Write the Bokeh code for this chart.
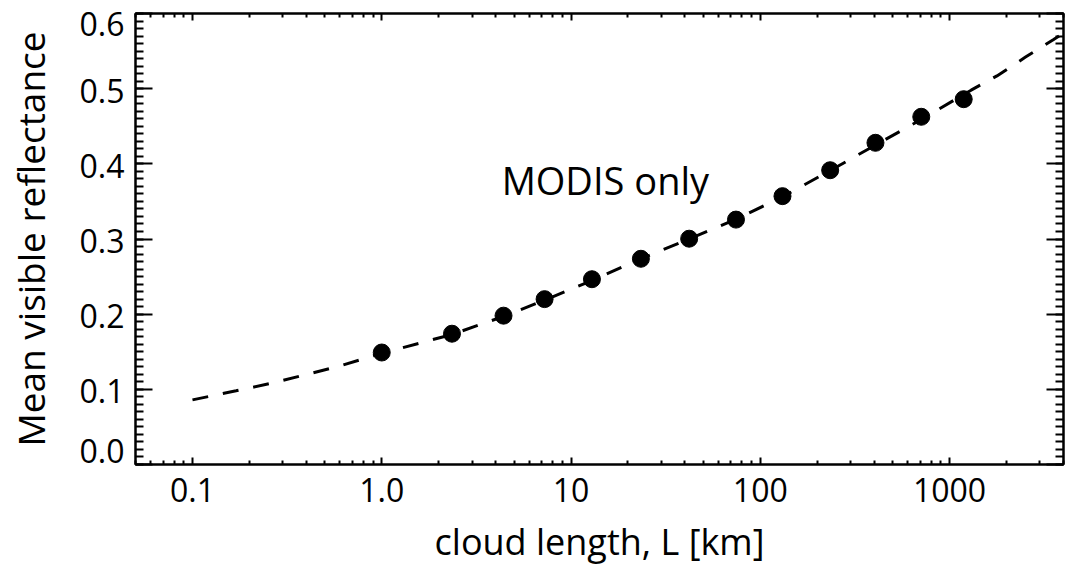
from bokeh.plotting import figure
from bokeh.models import Range1d, FixedTicker, LogAxis, LinearAxis, Label, CustomJSTickFormatter
from bokeh.embed import file_html
from bokeh.resources import INLINE

# ---- data ----
cloud_length = [1.0, 2.35, 4.4, 7.25, 12.9, 23.4, 42.1, 74.4, 131, 234, 406, 709, 1188]
reflectance = [0.149, 0.174, 0.198, 0.220, 0.2465, 0.2737, 0.3004, 0.3258, 0.357, 0.3915, 0.428, 0.4626, 0.486]

fit_length = [0.1, 0.17, 0.26, 0.39, 0.58, 1.0, 2.35, 4.4, 7.3, 13, 23, 42, 74, 131, 234, 406, 709, 1300, 1780, 2520, 3530, 4000]
fit_reflectance = [0.086, 0.098, 0.108, 0.119, 0.130, 0.148, 0.173, 0.197, 0.219, 0.245, 0.273, 0.300, 0.326, 0.356,
                   0.391, 0.425, 0.459, 0.498, 0.517, 0.542, 0.565, 0.574]

x_ticks = [0.1, 1, 10, 100, 1000]
x_tick_labels = ["0.1", "1.0", "10", "100", "1000"]
y_ticks = [0.0, 0.1, 0.2, 0.3, 0.4, 0.5, 0.6]
y_tick_labels = ["0.0", "0.1", "0.2", "0.3", "0.4", "0.5", "0.6"]

x_label = "cloud length, L [km]"
y_label = "Mean visible reflectance"
note_text = "MODIS only"
note_x, note_y = 4.3, 0.379

FONT = "Open Sans"
X_MIN, X_MAX = 0.05, 4000
Y_MIN, Y_MAX = 0.0, 0.6

p = figure(width=1068, height=571, x_axis_type="log",
           x_range=Range1d(X_MIN, X_MAX), y_range=Range1d(Y_MIN, Y_MAX),
           output_backend="svg", toolbar_location=None,
           min_border_left=135, min_border_right=5, min_border_top=13, min_border_bottom=107)
p.xgrid.visible = False
p.ygrid.visible = False
p.outline_line_color = "black"
p.outline_line_width = 2
p.background_fill_color = "white"
p.border_fill_color = "white"

x_minor = [m * d for d in [0.01, 0.1, 1, 10, 100, 1000] for m in range(2, 10)]
y_minor = [i / 100 for i in range(0, 61)]

xt = FixedTicker(ticks=x_ticks, minor_ticks=x_minor)
yt = FixedTicker(ticks=y_ticks, minor_ticks=y_minor)

x_formatter = CustomJSTickFormatter(args=dict(vals=x_ticks, labs=x_tick_labels), code="""
    let best = 0, bd = Infinity;
    for (let i = 0; i < vals.length; i++) {
        const d = Math.abs(Math.log10(tick) - Math.log10(vals[i]));
        if (d < bd) { bd = d; best = i; }
    }
    return labs[best];
""")


def hide_labels(ax):
    ax.major_label_text_font_size = "1px"
    ax.major_label_text_alpha = 0
    ax.major_label_standoff = 0


def style_x(ax, labels=True):
    ax.ticker = xt
    ax.axis_line_width = 2
    ax.major_tick_line_width = 2
    ax.minor_tick_line_width = 2
    ax.major_tick_in = 7
    ax.major_tick_out = 0
    ax.minor_tick_in = 4
    ax.minor_tick_out = 0
    if labels:
        ax.formatter = x_formatter
        ax.major_label_text_font = FONT
        ax.major_label_text_font_size = "32px"
        ax.major_label_text_color = "black"
        ax.major_label_standoff = 13
    else:
        hide_labels(ax)


def style_y(ax):
    ax.ticker = yt
    ax.axis_line_width = 2
    ax.major_tick_line_width = 2
    ax.minor_tick_line_width = 2
    ax.major_tick_in = 17
    ax.major_tick_out = 0
    ax.minor_tick_in = 8
    ax.minor_tick_out = 0
    hide_labels(ax)


style_x(p.xaxis[0])
style_y(p.yaxis[0])
xa = p.xaxis[0]
xa.axis_label = x_label
xa.axis_label_text_font = FONT
xa.axis_label_text_font_size = "36px"
xa.axis_label_text_font_style = "normal"
xa.axis_label_text_color = "black"
xa.axis_label_standoff = 12

# second, mark-less left axis that only carries the y tick labels;
# the end labels are nudged inward (in pixels) as in the reference
px_per_unit = 450 / (Y_MAX - Y_MIN)
y_nudge_px = [13, -2, -2, -2, -2, -2, -10]
label_pos = [v + n / px_per_unit for v, n in zip(y_ticks, y_nudge_px)]
ya = LinearAxis(ticker=FixedTicker(ticks=label_pos, minor_ticks=[]),
                formatter=CustomJSTickFormatter(args=dict(vals=y_ticks, labs=y_tick_labels), code="""
    let best = 0, bd = Infinity;
    for (let i = 0; i < vals.length; i++) {
        const d = Math.abs(tick - vals[i]);
        if (d < bd) { bd = d; best = i; }
    }
    return labs[best];
"""))
ya.axis_line_color = None
ya.major_tick_in = 0
ya.major_tick_out = 0
ya.minor_tick_in = 0
ya.minor_tick_out = 0
ya.major_tick_line_color = None
ya.minor_tick_line_color = None
ya.major_label_text_font = FONT
ya.major_label_text_font_size = "32px"
ya.major_label_text_color = "black"
ya.major_label_standoff = 11
ya.axis_label = y_label
ya.axis_label_text_font = FONT
ya.axis_label_text_font_size = "37px"
ya.axis_label_text_font_style = "normal"
ya.axis_label_text_color = "black"
ya.axis_label_standoff = 21
p.add_layout(ya, "left")

top = LogAxis()
style_x(top, labels=False)
p.add_layout(top, "above")
right = LinearAxis()
style_y(right)
p.add_layout(right, "right")

p.line(fit_length, fit_reflectance, line_color="black", line_width=3, line_dash="16 15")
p.scatter(cloud_length, reflectance, size=17, fill_color="black", line_color="black")

p.add_layout(Label(x=note_x, y=note_y, text=note_text, text_font=FONT, text_font_size="38px",
                   text_color="black", text_align="left", text_baseline="alphabetic"))

open("out.html", "w").write(file_html(p, INLINE))
